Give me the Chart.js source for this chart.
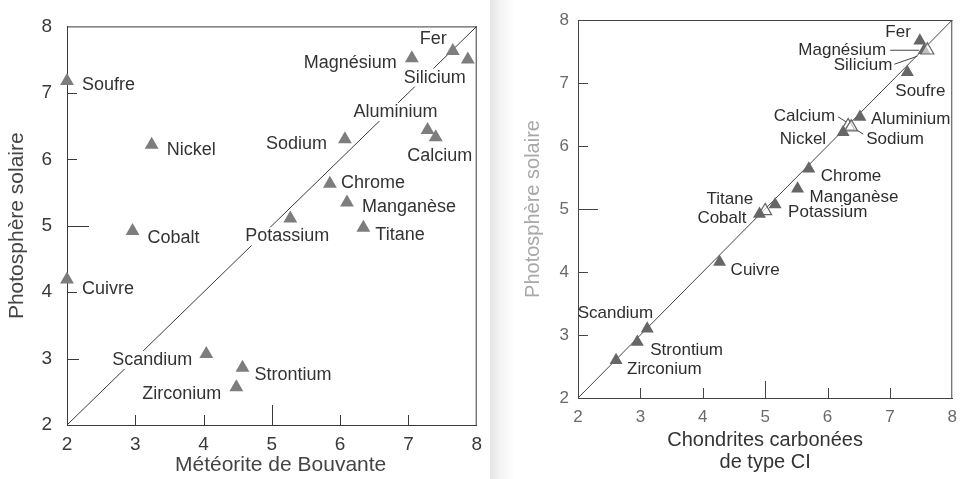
<!DOCTYPE html>
<html><head><meta charset="utf-8">
<script src="https://cdn.jsdelivr.net/npm/chart.js@4/dist/chart.umd.min.js"></script>
<style>
html,body{margin:0;padding:0;background:#fff;width:966px;height:479px;overflow:hidden}
#l{position:absolute;left:0;top:0;width:490px;height:479px}
#r{position:absolute;left:490px;top:0;width:476px;height:479px;background:linear-gradient(to right,#e4e4e4 0,#f3f3f3 10px,#fff 24px)}
canvas{display:block}
</style></head><body>
<div id="l"><canvas id="c1" width="490" height="479"></canvas></div>
<div id="r"><canvas id="c2" width="476" height="479"></canvas></div>
<script>
// ---- data: left panel (Météorite de Bouvante vs photosphère solaire)
const elementsLeft = ['Soufre','Nickel','Cobalt','Cuivre','Scandium','Strontium','Zirconium','Potassium','Sodium','Chrome','Manganèse','Titane','Magnésium','Fer','Silicium','Aluminium','Calcium'];
const bouvante   = [2.00, 3.24, 2.96, 2.00, 4.04, 4.57, 4.48, 5.27, 6.07, 5.85, 6.10, 6.34, 7.05, 7.65, 7.87, 7.28, 7.40];
const photoLeft  = [7.18, 6.22, 4.92, 4.19, 3.07, 2.86, 2.57, 5.11, 6.30, 5.63, 5.35, 4.97, 7.52, 7.63, 7.50, 6.44, 6.33];

// ---- data: right panel (Chondrites carbonées de type CI vs photosphère solaire)
const elementsRight = ['Fer','Magnésium','Silicium','Soufre','Aluminium','Calcium','Sodium','Nickel','Chrome','Manganèse','Potassium','Titane','Cobalt','Cuivre','Scandium','Strontium','Zirconium'];
const chondrites = [7.48, 7.55, 7.60, 7.28, 6.52, 6.33, 6.38, 6.25, 5.70, 5.52, 5.16, 5.00, 4.91, 4.27, 3.11, 2.95, 2.61];
const photoRight = [7.67, 7.52, 7.52, 7.17, 6.46, 6.32, 6.30, 6.22, 5.64, 5.32, 5.07, 4.97, 4.92, 4.16, 3.10, 2.89, 2.60];
const hollowRight = ['Silicium','Calcium','Sodium','Titane'];

const tickValues = [2,3,4,5,6,7,8];
const diagonal = [2, 8];

// ---- label placement (layout only): [dx, dy, align]
const placeLeft = {
  'Soufre':[15,4,'left'], 'Nickel':[15,5,'left'], 'Cobalt':[15,7,'left'], 'Cuivre':[15,10,'left'],
  'Scandium':[-14,6,'right'], 'Strontium':[12,7,'left'], 'Zirconium':[-15,7,'right'],
  'Potassium':[-3,18,'center'], 'Sodium':[-18,5,'right'], 'Chrome':[11,-1,'left'],
  'Manganèse':[15,5,'left'], 'Titane':[12,7,'left'], 'Magnésium':[-15,5,'right'],
  'Fer':[-6,-12,'right'], 'Silicium':[-2,18,'right'], 'Aluminium':[10,-18,'right'], 'Calcium':[4,19,'center']
};
const placeRight = {
  'Fer':[-9,-8,'right'], 'Magnésium':[-38,0,'right'], 'Silicium':[-35,15,'right'], 'Soufre':[13,19,'center'],
  'Calcium':[-13,-10,'right'], 'Aluminium':[11,2,'left'], 'Nickel':[-17,7,'right'], 'Sodium':[15,12,'left'],
  'Chrome':[12,8,'left'], 'Manganèse':[12,8,'left'], 'Potassium':[13,8,'left'], 'Titane':[-12,-12,'right'],
  'Cobalt':[-13,4,'right'], 'Cuivre':[11,8,'left'], 'Scandium':[6,-15,'right'], 'Strontium':[13,8,'left'], 'Zirconium':[11,9,'left']
};
const leadersRight = {
  'Magnésium':[-34,0,-5,0], 'Silicium':[-33,14,-10,6], 'Calcium':[-10,-9,-2,-4], 'Sodium':[12,7,4,2]
};

function annotPlugin(cfg){
  return {
    id:'annot'+cfg.key,
    beforeDatasetsDraw(chart){
      const {ctx, chartArea:a} = chart;
      const xs = chart.scales.x, ys = chart.scales.y;
      ctx.save();
      ctx.strokeStyle = cfg.lineColor; ctx.lineWidth = 1;
      ctx.beginPath();
      ctx.moveTo(a.left, a.top+0.5); ctx.lineTo(a.right, a.top+0.5);
      ctx.moveTo(a.right-0.5, a.top); ctx.lineTo(a.right-0.5, a.bottom);
      tickValues.slice(1,-1).forEach(v=>{
        const px = Math.round(xs.getPixelForValue(v))+0.5;
        const lx = cfg.xTickLen[v] || 10;
        ctx.moveTo(px, a.bottom); ctx.lineTo(px, a.bottom - lx);
        const py = Math.round(ys.getPixelForValue(v))+0.5;
        const ly = cfg.yTickLen[v] || 10;
        ctx.moveTo(a.left, py); ctx.lineTo(a.left + ly, py);
      });
      ctx.stroke();
      ctx.restore();
    },
    afterDatasetDraw(chart, args){
      if (args.index !== 1) return;
      const ctx = chart.ctx;
      const xs = chart.scales.x, ys = chart.scales.y;
      ctx.save();
      ctx.font = cfg.font;
      ctx.textBaseline = 'middle';
      cfg.names.forEach((n,i)=>{
        const px = xs.getPixelForValue(cfg.xv[i]);
        const py = ys.getPixelForValue(cfg.yv[i]);
        const [dx,dy,al] = cfg.place[n];
        const w = ctx.measureText(n).width;
        let x0 = px+dx;
        if (al==='right') x0 -= w; else if (al==='center') x0 -= w/2;
        if (cfg.bg){
          ctx.fillStyle = '#fff';
          ctx.fillRect(x0-2, py+dy-9, w+4, 18);
        }
        ctx.fillStyle = cfg.textColor;
        ctx.textAlign = 'left';
        ctx.fillText(n, x0, py+dy);
        const ld = cfg.leaders && cfg.leaders[n];
        if (ld){
          ctx.strokeStyle = cfg.lineColor; ctx.lineWidth = 1;
          ctx.beginPath();
          ctx.moveTo(px+ld[0], py+ld[1]); ctx.lineTo(px+ld[2], py+ld[3]);
          ctx.stroke();
        }
      });
      ctx.restore();
    }
  };
}

function makeChart(canvas, cfg){
  const fam = '"Liberation Sans", Arial, Helvetica, sans-serif';
  return new Chart(canvas, {
    type:'scatter',
    data:{datasets:[
      {
        data: cfg.xv.map((x,i)=>({x:x, y:cfg.yv[i]})),
        pointStyle:'triangle', pointRadius: cfg.r, pointHoverRadius: cfg.r,
        backgroundColor: cfg.names.map(n => (cfg.hollow||[]).includes(n) ? 'rgba(255,255,255,0.6)' : cfg.markColor),
        borderColor: cfg.markColor, borderWidth: cfg.names.map(n => (cfg.hollow||[]).includes(n) ? 1.2 : 0),
        order:0, clip:false
      },
      {
        type:'line', data: diagonal.map(v=>({x:v,y:v})),
        borderColor: cfg.lineColor, borderWidth:1, pointRadius:0, order:1, clip:false, fill:false
      }
    ]},
    options:{
      responsive:false, animation:false, devicePixelRatio:1,
      layout:{padding:cfg.pad},
      plugins:{legend:{display:false}, tooltip:{enabled:false}},
      scales:{
        x:{
          type:'linear', min:2, max:8,
          afterBuildTicks: s => { s.ticks = tickValues.map(v=>({value:v})); },
          afterFit: s => { s.height = cfg.xH; },
          grid:{display:false, drawTicks:false},
          border:{display:true, color:cfg.lineColor, width:1},
          ticks:{padding:cfg.xTickPad, color:cfg.tickColor, font:{family:fam, size:cfg.tickSize}},
          title:{display:true, text:cfg.xTitle, color:cfg.xTitleColor, font:{family:fam, size:cfg.titleSize, lineHeight:cfg.xTitleLH}, padding:{top:0,bottom:cfg.xTitlePad}}
        },
        y:{
          type:'linear', min:2, max:8,
          afterBuildTicks: s => { s.ticks = tickValues.map(v=>({value:v})); },
          afterFit: s => { s.width = cfg.yW; },
          grid:{display:false, drawTicks:false},
          border:{display:true, color:cfg.lineColor, width:1},
          ticks:{padding:cfg.yTickPad, color:cfg.tickColor, font:{family:fam, size:cfg.tickSize}},
          title:{display:true, text:cfg.yTitle, color:cfg.yTitleColor, font:{family:fam, size:cfg.titleSize, lineHeight:1.2}, padding:{top:cfg.yTitlePad,bottom:0}}
        }
      }
    },
    plugins:[annotPlugin(cfg)]
  });
}

makeChart(document.getElementById('c1'), {
  key:'L', names:elementsLeft, xv:bouvante, yv:photoLeft, place:placeLeft, bg:true,
  r:8, markColor:'#7d7d7d', lineColor:'#3a3a3a', textColor:'#333', tickColor:'#3a3a3a',
  xTitleColor:'#444', yTitleColor:'#444',
  font:'18px "Liberation Sans", Arial, sans-serif', tickSize:19, titleSize:21,
  pad:{left:0, right:12, top:20, bottom:1}, xH:53, yW:67,
  xTickPad:8, yTickPad:15, xTitlePad:0, yTitlePad:5, xTitleLH:1.2,
  xTitle:'\u00A0\u00A0\u00A0Météorite de Bouvante', yTitle:'Photosphère solaire',
  xTickLen:{5:20}, yTickLen:{5:22, 3:12}
});

makeChart(document.getElementById('c2'), {
  key:'R', names:elementsRight, xv:chondrites, yv:photoRight, place:placeRight, leaders:leadersRight, hollow:hollowRight, bg:false,
  r:7.5, markColor:'#666', lineColor:'#444', textColor:'#2e2e2e', tickColor:'#6a6a6a',
  xTitleColor:'#333', yTitleColor:'#a8a8a8',
  font:'17px "Liberation Sans", Arial, sans-serif', tickSize:17, titleSize:20,
  pad:{left:20, right:4, top:20, bottom:5}, xH:76, yW:68,
  xTickPad:9, yTickPad:9, xTitlePad:1, yTitlePad:11, xTitleLH:1.1,
  xTitle:['Chondrites carbonées','de type CI'], yTitle:'Photosphère solaire',
  xTickLen:{5:17}, yTickLen:{5:20}
});
</script>
</body></html>
